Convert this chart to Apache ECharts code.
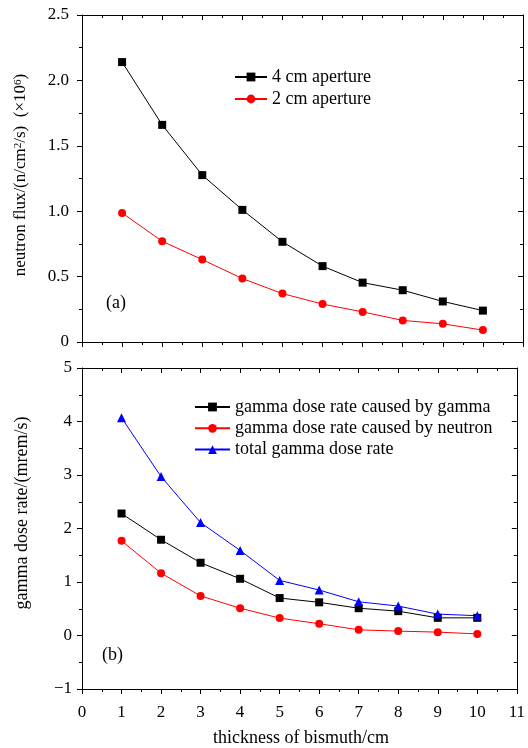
<!DOCTYPE html>
<html><head><meta charset="utf-8">
<script src="https://cdn.jsdelivr.net/npm/echarts/dist/echarts.min.js"></script>
<style>html,body{margin:0;padding:0;background:#fff}#c{width:528px;height:748px}</style>
</head><body><div id="c"></div>
<script>
const thickness = [1, 2, 3, 4, 5, 6, 7, 8, 9, 10];
const flux4cm = [2.14, 1.66, 1.276, 1.01, 0.766, 0.58, 0.454, 0.396, 0.31, 0.24];
const flux2cm = [0.987, 0.77, 0.63, 0.485, 0.37, 0.29, 0.23, 0.165, 0.139, 0.091];
const doseGamma = [2.28, 1.79, 1.36, 1.06, 0.70, 0.62, 0.51, 0.455, 0.33, 0.33];
const doseNeutron = [1.77, 1.165, 0.74, 0.51, 0.325, 0.22, 0.106, 0.082, 0.063, 0.03];
const doseTotal = [4.07, 2.97, 2.11, 1.59, 1.03, 0.85, 0.63, 0.55, 0.40, 0.37];

const FONT = "'Liberation Serif','Times New Roman',serif";
const pairs = arr => thickness.map((x, i) => [x, arr[i]]);

function axisBase(inside, extra) {
  return Object.assign({
    type: 'value',
    axisLine: { show: true, onZero: false, lineStyle: { color: '#000', width: 1 } },
    axisTick: { show: true, inside: inside, length: 5, lineStyle: { color: '#000', width: 1 } },
    minorTick: { show: true, splitNumber: 2, length: 3, lineStyle: { color: '#000', width: 1 } },
    splitLine: { show: false },
    minorSplitLine: { show: false },
    axisLabel: { show: false, color: '#000', fontFamily: FONT, fontSize: 17 }
  }, extra);
}
const lbl = (o) => Object.assign({ show: true, color: '#000', fontFamily: FONT, fontSize: 17 }, o);

const chart = echarts.init(document.getElementById('c'), null, { renderer: 'canvas' });
chart.setOption({
  animation: false,
  backgroundColor: '#fff',
  grid: [
    { left: 82, right: 5, top: 15, height: 327 },
    { left: 82, right: 5, top: 368, height: 321 }
  ],
  xAxis: [
    axisBase(false, { gridIndex: 0, position: 'bottom', min: 0, max: 11, interval: 1 }),
    axisBase(true, { gridIndex: 0, position: 'top', min: 0, max: 11, interval: 1 }),
    axisBase(false, { gridIndex: 1, position: 'bottom', min: 0, max: 11, interval: 1,
      axisLabel: lbl({ margin: 15 }) }),
    axisBase(true, { gridIndex: 1, position: 'top', min: 0, max: 11, interval: 1 })
  ],
  yAxis: [
    axisBase(false, { gridIndex: 0, position: 'left', min: 0, max: 2.5, interval: 0.5,
      axisLabel: lbl({ margin: 13, formatter: v => v === 0 ? '0' : v.toFixed(1) }) }),
    axisBase(true, { gridIndex: 0, position: 'right', min: 0, max: 2.5, interval: 0.5 }),
    axisBase(false, { gridIndex: 1, position: 'left', min: -1, max: 5, interval: 1,
      axisLabel: lbl({ margin: 10, formatter: v => String(v).replace('-', '\u2212') }) }),
    axisBase(true, { gridIndex: 1, position: 'right', min: -1, max: 5, interval: 1 })
  ],
  legend: [
    {
      data: ['4 cm aperture', '2 cm aperture'],
      orient: 'vertical', left: 234, top: 67, padding: 0,
      itemWidth: 32, itemHeight: 11, itemGap: 2,
      textStyle: { fontFamily: FONT, fontSize: 18, color: '#000', lineHeight: 20 }
    },
    {
      data: ['gamma dose rate caused by gamma', 'gamma dose rate caused by neutron', 'total gamma dose rate'],
      orient: 'vertical', left: 194, top: 397, padding: 0,
      itemWidth: 35, itemHeight: 11, itemGap: 1.3,
      textStyle: { fontFamily: FONT, fontSize: 18, color: '#000', lineHeight: 20 }
    }
  ],
  series: [
    { name: '4 cm aperture', type: 'line', xAxisIndex: 0, yAxisIndex: 0, data: pairs(flux4cm),
      symbol: 'rect', symbolSize: 8, color: '#000', lineStyle: { width: 1, color: '#000' }, itemStyle: { color: '#000' } },
    { name: '2 cm aperture', type: 'line', xAxisIndex: 0, yAxisIndex: 0, data: pairs(flux2cm),
      symbol: 'circle', symbolSize: 8, color: '#ff0000', lineStyle: { width: 1, color: '#ff0000' }, itemStyle: { color: '#ff0000' } },
    { name: 'gamma dose rate caused by gamma', type: 'line', xAxisIndex: 2, yAxisIndex: 2, data: pairs(doseGamma),
      symbol: 'rect', symbolSize: 8, color: '#000', lineStyle: { width: 1, color: '#000' }, itemStyle: { color: '#000' } },
    { name: 'gamma dose rate caused by neutron', type: 'line', xAxisIndex: 2, yAxisIndex: 2, data: pairs(doseNeutron),
      symbol: 'circle', symbolSize: 8, color: '#ff0000', lineStyle: { width: 1, color: '#ff0000' }, itemStyle: { color: '#ff0000' } },
    { name: 'total gamma dose rate', type: 'line', xAxisIndex: 2, yAxisIndex: 2, data: pairs(doseTotal),
      symbol: 'triangle', symbolSize: 9, color: '#0000ff', lineStyle: { width: 1, color: '#0000ff' }, itemStyle: { color: '#0000ff' } }
  ],
  graphic: [
    { type: 'text', x: 106, y: 303, style: { text: '(a)', fontFamily: FONT, fontSize: 18, fill: '#000', verticalAlign: 'middle' } },
    { type: 'text', x: 102, y: 655, style: { text: '(b)', fontFamily: FONT, fontSize: 18, fill: '#000', verticalAlign: 'middle' } },
    { type: 'text', x: 21, y: 175, rotation: Math.PI / 2,
      style: { text: 'neutron flux/(n/cm{sup|2}/s)  (\u00d710{sup|6})', fontFamily: FONT, fontSize: 17, fill: '#000',
        align: 'center', verticalAlign: 'middle',
        rich: { sup: { fontSize: 11, verticalAlign: 'top', fontFamily: FONT, fill: '#000' } } } },
    { type: 'text', x: 22, y: 513, rotation: Math.PI / 2,
      style: { text: 'gamma dose rate/(mrem/s)', fontFamily: FONT, fontSize: 18, fill: '#000',
        align: 'center', verticalAlign: 'middle' } },
    { type: 'text', x: 301, y: 738,
      style: { text: 'thickness of bismuth/cm', fontFamily: FONT, fontSize: 18, fill: '#000',
        align: 'center', verticalAlign: 'middle' } }
  ]
});
</script>
</body></html>
